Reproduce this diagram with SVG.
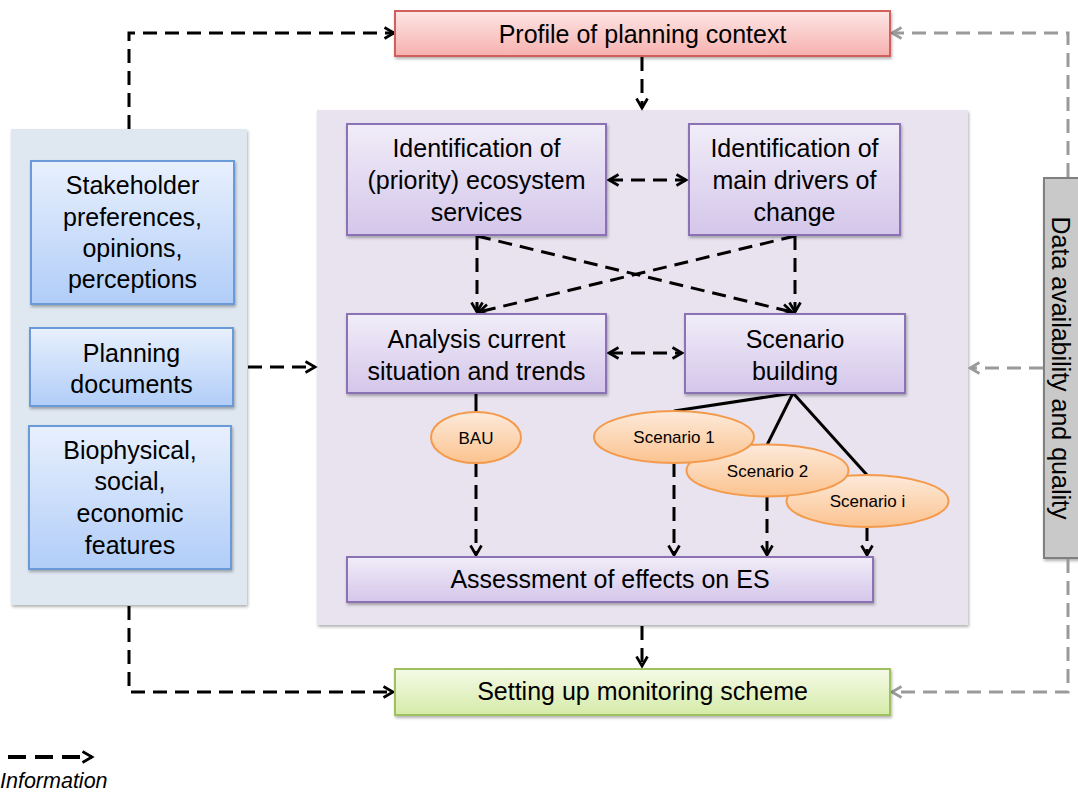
<svg xmlns="http://www.w3.org/2000/svg" width="1078" height="794" viewBox="0 0 1078 794">
<style>
text{font-family:"Liberation Sans",Arial,sans-serif;fill:#000;text-anchor:middle}
.t{font-size:25px}
.s{font-size:17px}
.box{stroke-width:2}
.pur{fill:url(#gPur);stroke:#8a72b4}
.blu{fill:url(#gBlu);stroke:#6b9bd8}
.ell{fill:url(#gOra);stroke:#f39a4c;stroke-width:2}
.dk{fill:none;stroke:#000;stroke-width:3;stroke-dasharray:14 8}
.gr{fill:none;stroke:#9a9a9a;stroke-width:3;stroke-dasharray:14 8}
.sol{fill:none;stroke:#000;stroke-width:3}
</style>
<defs>
<linearGradient id="gPur" x1="0" y1="0" x2="0" y2="1"><stop offset="0" stop-color="#f1edf8"/><stop offset="1" stop-color="#d4c6ea"/></linearGradient>
<linearGradient id="gBlu" x1="0" y1="0" x2="0" y2="1"><stop offset="0" stop-color="#e8f0fd"/><stop offset="1" stop-color="#b1cdf8"/></linearGradient>
<linearGradient id="gRed" x1="0" y1="0" x2="0" y2="1"><stop offset="0" stop-color="#fde6e5"/><stop offset="1" stop-color="#f6b1af"/></linearGradient>
<linearGradient id="gGrn" x1="0" y1="0" x2="0" y2="1"><stop offset="0" stop-color="#f5fae7"/><stop offset="1" stop-color="#d5eba8"/></linearGradient>
<linearGradient id="gOra" x1="0" y1="0" x2="0" y2="1"><stop offset="0" stop-color="#fdeadb"/><stop offset="1" stop-color="#fbc38f"/></linearGradient>
<filter id="sh" x="-10%" y="-10%" width="120%" height="130%"><feDropShadow dx="1" dy="2" stdDeviation="1.5" flood-color="#000" flood-opacity="0.3"/></filter>
<marker id="ab" viewBox="0 0 12 12" refX="10.5" refY="6" markerWidth="12" markerHeight="12" markerUnits="userSpaceOnUse" orient="auto-start-reverse" overflow="visible">
<path d="M1,0.5 L10.5,6 L1,11.5" fill="none" stroke="#000" stroke-width="2.7"/>
</marker>
<marker id="ag" viewBox="0 0 12 12" refX="10.5" refY="6" markerWidth="12" markerHeight="12" markerUnits="userSpaceOnUse" orient="auto-start-reverse" overflow="visible">
<path d="M1,0.5 L10.5,6 L1,11.5" fill="none" stroke="#9a9a9a" stroke-width="2.7"/>
</marker>
</defs>

<rect width="1078" height="794" fill="#fff"/>

<g id="left-panel">
<rect x="11" y="129" width="236" height="476" fill="#dfe7f1" filter="url(#sh)"/>
</g>
<g id="center-panel">
<rect x="317" y="110" width="651" height="515" fill="#e8e3ee" filter="url(#sh)"/>
</g>
<g id="data-quality">
<rect x="1044" y="178" width="40" height="380" fill="#c9c9c9" stroke="#7f7f7f" stroke-width="2" filter="url(#sh)"/>
<text class="t" transform="translate(1061,368) rotate(90)" dy="0.36em">Data availability and quality</text>
</g>

<g id="connectors">
<path class="dk" d="M129,129 V33 H394" marker-end="url(#ab)"/>
<path class="dk" d="M642,57 V108" marker-end="url(#ab)"/>
<path class="dk" d="M248,367 H315" marker-end="url(#ab)"/>
<path class="dk" d="M609,180 H686" marker-start="url(#ab)" marker-end="url(#ab)"/>
<path class="dk" d="M609,353 H682" marker-start="url(#ab)" marker-end="url(#ab)"/>
<path class="dk" d="M477,236 V312" marker-end="url(#ab)"/>
<path class="dk" d="M477,236 L792,312" marker-end="url(#ab)"/>
<path class="dk" d="M795,236 V312" marker-end="url(#ab)"/>
<path class="dk" d="M795,236 L479,312" marker-end="url(#ab)"/>
<path class="sol" d="M476,393 V412"/>
<path class="sol" d="M793,393 L674,411"/>
<path class="sol" d="M793,393 L767,445"/>
<path class="sol" d="M793,393 L867,475"/>
<path class="dk" d="M476,463 V555" marker-end="url(#ab)"/>
<path class="dk" d="M674,463 V555" marker-end="url(#ab)"/>
<path class="dk" d="M767,497 V555" marker-end="url(#ab)"/>
<path class="dk" d="M867,527 V555" marker-end="url(#ab)"/>
<path class="dk" d="M642,626 V666" marker-end="url(#ab)"/>
<path class="dk" d="M129,606 V692 H393" marker-end="url(#ab)"/>
<path class="gr" d="M1068,177 V33 H892" marker-end="url(#ag)"/>
<path class="gr" d="M1043,368 H970" marker-end="url(#ag)"/>
<path class="gr" d="M1068,559 V692 H892" marker-end="url(#ag)"/>
</g>

<g id="profile">
<rect class="box" x="395" y="11" width="495" height="45" fill="url(#gRed)" stroke="#d35f5c" filter="url(#sh)"/>
<text class="t" x="642.5" y="43">Profile of planning context</text>
</g>

<g id="stakeholder">
<rect class="box blu" x="31" y="161" width="203" height="143" filter="url(#sh)"/>
<text class="t" x="132.5" y="194">Stakeholder</text>
<text class="t" x="132.5" y="226">preferences,</text>
<text class="t" x="132.5" y="257">opinions,</text>
<text class="t" x="132.5" y="288">perceptions</text>
</g>
<g id="planning">
<rect class="box blu" x="30" y="328" width="203" height="78" filter="url(#sh)"/>
<text class="t" x="131.5" y="362">Planning</text>
<text class="t" x="131.5" y="393">documents</text>
</g>
<g id="biophysical">
<rect class="box blu" x="29" y="426" width="202" height="143" filter="url(#sh)"/>
<text class="t" x="130" y="459">Biophysical,</text>
<text class="t" x="130" y="490">social,</text>
<text class="t" x="130" y="522">economic</text>
<text class="t" x="130" y="554">features</text>
</g>

<g id="ident-es">
<rect class="box pur" x="347" y="124" width="259" height="111" filter="url(#sh)"/>
<text class="t" x="476.5" y="157">Identification of</text>
<text class="t" x="476.5" y="189">(priority) ecosystem</text>
<text class="t" x="476.5" y="221">services</text>
</g>
<g id="ident-drivers">
<rect class="box pur" x="689" y="124" width="211" height="111" filter="url(#sh)"/>
<text class="t" x="794.5" y="157">Identification of</text>
<text class="t" x="794.5" y="189">main drivers of</text>
<text class="t" x="794.5" y="221">change</text>
</g>
<g id="analysis">
<rect class="box pur" x="347" y="314" width="259" height="79" filter="url(#sh)"/>
<text class="t" x="476.5" y="348">Analysis current</text>
<text class="t" x="476.5" y="380">situation and trends</text>
</g>
<g id="scenario-building">
<rect class="box pur" x="685" y="314" width="220" height="79" filter="url(#sh)"/>
<text class="t" x="795" y="348">Scenario</text>
<text class="t" x="795" y="380">building</text>
</g>

<g id="bau">
<ellipse class="ell" cx="476" cy="437.5" rx="45" ry="25.5"/>
<text class="s" x="476" y="443.5">BAU</text>
</g>
<g id="scenario-i">
<ellipse class="ell" cx="867.5" cy="501" rx="81" ry="26"/>
<text class="s" x="867.5" y="507">Scenario i</text>
</g>
<g id="scenario-2">
<ellipse class="ell" cx="767.5" cy="470.5" rx="81" ry="26"/>
<text class="s" x="767.5" y="476.5">Scenario 2</text>
</g>
<g id="scenario-1">
<ellipse class="ell" cx="674" cy="437" rx="80" ry="26"/>
<text class="s" x="674" y="443">Scenario 1</text>
</g>

<g id="assessment">
<rect class="box pur" x="347" y="557" width="526" height="45" filter="url(#sh)"/>
<text class="t" x="610" y="588">Assessment of effects on ES</text>
</g>

<g id="monitoring">
<rect class="box" x="395" y="669" width="495" height="46" fill="url(#gGrn)" stroke="#9fc05e" filter="url(#sh)"/>
<text class="t" x="642.5" y="700">Setting up monitoring scheme</text>
</g>

<g id="legend">
<path d="M8,757 H92" fill="none" stroke="#000" stroke-width="4" stroke-dasharray="18 9" marker-end="url(#ab)"/>
<text x="0" y="788" style="font-size:21.5px;font-style:italic;text-anchor:start">Information</text>
</g>
</svg>
